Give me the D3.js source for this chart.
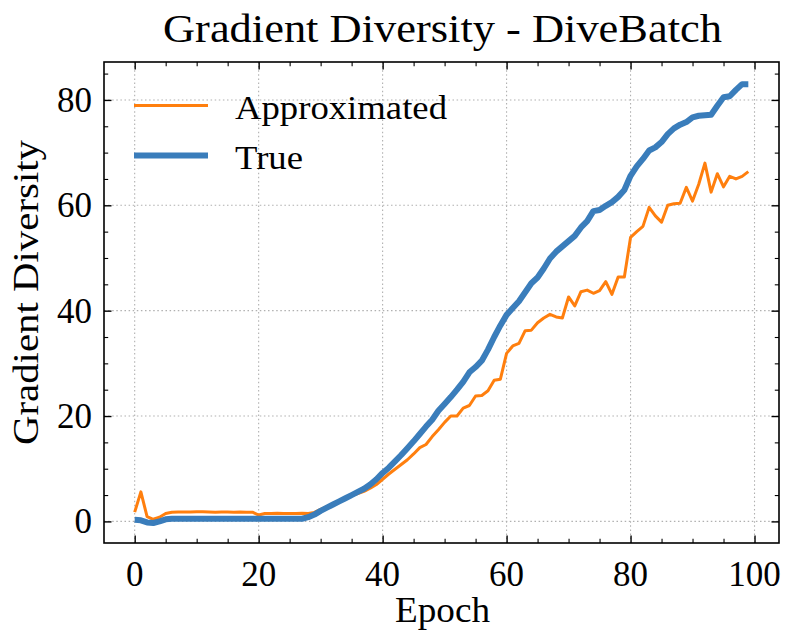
<!DOCTYPE html>
<html>
<head>
<meta charset="utf-8">
<script src="https://cdn.jsdelivr.net/npm/d3@7"></script>
<style>
  body { margin: 0; background: #fff; }
  text { font-family: "Liberation Serif", "DejaVu Serif", serif; fill: #000; }
</style>
</head>
<body>
<svg id="chart" width="794" height="644"></svg>
<script>
// values, one per epoch (0..99)
var approxVals = [1.75,5.6,0.9,0.4,0.8,1.5,1.75,1.8,1.8,1.8,
  1.85,1.85,1.8,1.75,1.8,1.8,1.75,1.8,1.75,1.75,
  1.2,1.5,1.5,1.55,1.5,1.5,1.5,1.55,1.5,1.7,
  2.3,2.8,3.3,3.9,4.4,4.9,5.3,5.7,6.3,7.0,
  8.0,9.0,9.9,10.8,11.7,12.8,14.0,14.6,16.1,17.4,
  18.8,20.0,20.0,21.5,22.0,23.8,23.9,24.8,26.8,27.0,
  31.9,33.3,33.8,36.2,36.3,37.7,38.6,39.3,38.8,38.6,
  42.6,40.9,43.6,43.9,43.3,43.8,45.5,43.1,46.4,46.4,
  53.9,55.0,56.0,59.6,58.0,56.8,60.0,60.3,60.4,63.4,
  60.8,64.0,68.0,62.5,66.0,63.5,65.5,65.0,65.5,66.4]
var trueVals = [0.3,0.2,-0.2,-0.3,0.0,0.4,0.5,0.5,0.5,0.5,
  0.5,0.5,0.5,0.5,0.5,0.5,0.5,0.5,0.5,0.5,
  0.5,0.5,0.5,0.5,0.5,0.5,0.5,0.5,0.8,1.3,
  2.0,2.6,3.2,3.8,4.4,5.0,5.6,6.2,7.0,8.0,
  9.2,10.2,11.4,12.6,13.9,15.2,16.6,18.0,19.3,21.0,
  22.3,23.6,25.0,26.5,28.3,29.3,30.5,32.6,35.0,37.2,
  39.2,40.5,41.8,43.5,45.2,46.3,48.0,49.9,51.2,52.2,
  53.2,54.2,55.8,57.0,58.9,59.1,59.9,60.6,61.6,62.9,
  65.6,67.4,68.8,70.4,71.0,72.0,73.5,74.6,75.3,75.8,
  76.7,77.0,77.1,77.2,78.9,80.5,80.7,81.9,83.0,83.0]
var xTicks = [0,20,40,60,80,100]
var yTicks = [0,20,40,60,80]
var seriesNames = ["Approximated","True"]

var svg = d3.select("#chart")
var L = 104, R = 779, T = 62, B = 543
var ORANGE = "#ff7f0e", BLUE = "#3a7dbb"

var x = d3.scaleLinear().domain([-4.95, 103.95]).range([L, R])
var y = d3.scaleLinear().domain([-4.1, 87.2]).range([B, T])

// dotted grid
var grid = svg.append("g").attr("stroke", "#b0b0b0").attr("stroke-width", 1.1).attr("stroke-dasharray", "1.5,2.6")
grid.selectAll("line.gx").data(xTicks).enter().append("line").attr("class", "gx")
  .attr("x1", function(d) { return x(d) }).attr("x2", function(d) { return x(d) })
  .attr("y1", T).attr("y2", B)
grid.selectAll("line.gy").data(yTicks).enter().append("line").attr("class", "gy")
  .attr("y1", function(d) { return y(d) }).attr("y2", function(d) { return y(d) })
  .attr("x1", L).attr("x2", R)

// lines
var line = d3.line().x(function(d, i) { return x(i) }).y(function(d) { return y(d) })
svg.append("path").datum(approxVals).attr("d", line)
  .attr("fill", "none").attr("stroke", ORANGE).attr("stroke-width", 3).attr("stroke-linejoin", "round")
svg.append("path").datum(trueVals).attr("d", line)
  .attr("fill", "none").attr("stroke", BLUE).attr("stroke-width", 6).attr("stroke-linejoin", "round")

// ticks pointing inward on all four sides
var xMinor = d3.range(0, 101, 5).filter(function(d) { return d % 20 })
var yMinor = d3.range(0, 86, 5).filter(function(d) { return d % 20 })
function ticks(axisFn, scale, tr, majors, minors) {
  var g = svg.append("g").attr("transform", tr)
  g.append("g").call(axisFn(scale).tickValues(majors).tickSizeInner(-7.5).tickSizeOuter(0).tickFormat(""))
    .call(function(s) { s.select(".domain").remove(); s.selectAll("line").attr("stroke-width", 1.4) })
  g.append("g").call(axisFn(scale).tickValues(minors).tickSizeInner(-4.2).tickSizeOuter(0).tickFormat(""))
    .call(function(s) { s.select(".domain").remove(); s.selectAll("line").attr("stroke-width", 1.1) })
}
ticks(d3.axisBottom, x, "translate(0," + B + ")", xTicks, xMinor)
ticks(d3.axisTop, x, "translate(0," + T + ")", xTicks, xMinor)
ticks(d3.axisLeft, y, "translate(" + L + ",0)", yTicks, yMinor)
ticks(d3.axisRight, y, "translate(" + R + ",0)", yTicks, yMinor)

svg.append("rect").attr("x", L).attr("y", T).attr("width", R - L).attr("height", B - T)
  .attr("fill", "none").attr("stroke", "#000").attr("stroke-width", 1.6)

// tick labels
svg.selectAll("text.xl").data(xTicks).enter().append("text").attr("class", "xl")
  .attr("x", function(d) { return x(d) }).attr("y", 586)
  .attr("text-anchor", "middle").attr("font-size", 35).text(function(d) { return d })
svg.selectAll("text.yl").data(yTicks).enter().append("text").attr("class", "yl")
  .attr("x", 92).attr("y", function(d) { return y(d) + 12 })
  .attr("text-anchor", "end").attr("font-size", 35).text(function(d) { return d })

// titles
svg.append("text").attr("x", 163).attr("y", 42)
  .attr("font-size", 39).attr("textLength", 559).attr("lengthAdjust", "spacingAndGlyphs")
  .text("Gradient Diversity - DiveBatch")
svg.append("text").attr("x", 395).attr("y", 622)
  .attr("font-size", 35).attr("textLength", 95).attr("lengthAdjust", "spacingAndGlyphs").text("Epoch")
svg.append("text").attr("transform", "translate(38,445) rotate(-90)")
  .attr("font-size", 35).attr("textLength", 305).attr("lengthAdjust", "spacingAndGlyphs")
  .text("Gradient Diversity")

// legend
var legColors = [ORANGE, BLUE], legWidths = [3, 6], legTextW = [212, 68]
var leg = svg.append("g")
seriesNames.forEach(function(name, i) {
  var yy = 105.5 + i * 50
  leg.append("line").attr("x1", 134).attr("x2", 208).attr("y1", yy).attr("y2", yy)
    .attr("stroke", legColors[i]).attr("stroke-width", legWidths[i])
  leg.append("text").attr("x", 235).attr("y", yy + 13).attr("font-size", 34)
    .attr("textLength", legTextW[i]).attr("lengthAdjust", "spacingAndGlyphs").text(name)
})
</script>
</body>
</html>
